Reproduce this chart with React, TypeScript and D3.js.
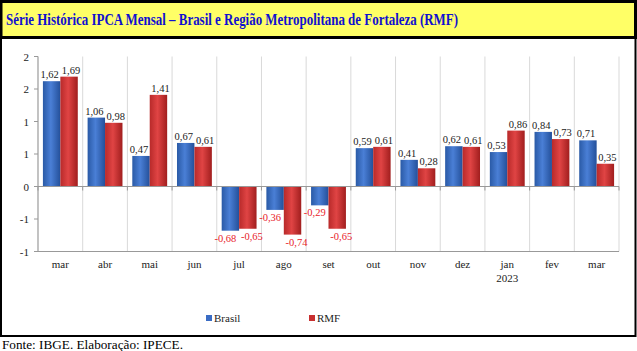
import React from 'react';
import * as d3 from 'd3';

// months (mar/2022 .. mar/2023)
const months = ['mar', 'abr', 'mai', 'jun', 'jul', 'ago', 'set', 'out', 'nov', 'dez', 'jan', 'fev', 'mar'];
const brasil = [1.62, 1.06, 0.47, 0.67, -0.68, -0.36, -0.29, 0.59, 0.41, 0.62, 0.53, 0.84, 0.71];
const rmf = [1.69, 0.98, 1.41, 0.61, -0.65, -0.74, -0.65, 0.61, 0.28, 0.61, 0.86, 0.73, 0.35];
const seriesNames = ['Brasil', 'RMF'];
const yTicks = [2, 1.5, 1, 0.5, 0, -0.5, -1];
const yTickLabels = ['2', '2', '1', '1', '0', '-1', '-1'];

const W = 637;
const H = 351;
const serif = "'Liberation Serif', 'Times New Roman', 'DejaVu Serif', serif";

const fmt = (v: number) => v.toFixed(2).replace('.', ',');

const App = () => {
  const idx = months.map((_, i) => String(i));
  const x = d3.scaleBand().domain(idx).range([38, 619]).paddingInner(0.22).paddingOuter(0.11);
  const xs = d3.scaleBand().domain(seriesNames).range([0, x.bandwidth()]);
  const y = d3.scaleLinear().domain([-1, 2]).range([251.5, 56.5]);
  const step = x.step();
  const bounds = d3.range(months.length + 1).map(k => 38 + k * step);
  const y0 = y(0);

  const data = [brasil, rmf];
  const fills = ['url(#gBlue)', 'url(#gRed)'];
  const txt = { fontFamily: serif };

  return (
    <svg width={W} height={H} style={{ position: 'absolute', left: 0, top: 0, background: '#fff', fontFamily: serif }}>
      <defs>
        <linearGradient id="gBlue" x1="0" x2="1" y1="0" y2="0">
          <stop offset="0" stopColor="#2a5aa6" />
          <stop offset="0.45" stopColor="#4a7fd6" />
          <stop offset="1" stopColor="#24509a" />
        </linearGradient>
        <linearGradient id="gRed" x1="0" x2="1" y1="0" y2="0">
          <stop offset="0" stopColor="#b82a2a" />
          <stop offset="0.45" stopColor="#e04444" />
          <stop offset="1" stopColor="#a11e1e" />
        </linearGradient>
      </defs>

      {/* title box */}
      <rect x={1} y={1.5} width={634.5} height={36} fill="#ffff66" stroke="#000" strokeWidth={3} />
      <text x={6} y={25} style={txt} fontWeight="bold" fontSize={16} fill="#1010d0"
        textLength={452} lengthAdjust="spacingAndGlyphs">
        Série Histórica IPCA Mensal – Brasil e Região Metropolitana de Fortaleza (RMF)
      </text>

      {/* chart box */}
      <rect x={1} y={38} width={634.5} height={298} fill="#fff" stroke="#000" strokeWidth={2} />

      {/* vertical grid */}
      {bounds.map((bx, i) => (
        <line key={'g' + i} x1={bx} x2={bx} y1={56.5} y2={251.5} stroke="#d9d9d9" strokeWidth={1} />
      ))}

      {/* y axis */}
      <line x1={38} x2={38} y1={56.5} y2={251.5} stroke="#999" />
      {yTicks.map((t, i) => (
        <g key={'yt' + i}>
          <line x1={34} x2={38} y1={y(t)} y2={y(t)} stroke="#999" />
          <text x={29} y={y(t) + 4} textAnchor="end" style={txt} fontSize={11} fill="#222">
            {yTickLabels[i]}
          </text>
        </g>
      ))}
      <line x1={38} x2={619} y1={251.5} y2={251.5} stroke="#999" />

      {/* bars */}
      {data.map((vals, s) =>
        vals.map((v, i) => {
          const bx = (x(String(i)) as number) + (xs(seriesNames[s]) as number);
          const top = Math.min(y(v), y0);
          return (
            <rect key={'b' + s + '-' + i} x={bx} y={top} width={xs.bandwidth()} height={Math.abs(y(v) - y0)} fill={fills[s]} />
          );
        })
      )}

      {/* zero axis */}
      <line x1={38} x2={619} y1={y0} y2={y0} stroke="#999" />
      {bounds.map((bx, i) => (
        <line key={'xt' + i} x1={bx} x2={bx} y1={y0} y2={y0 + 4} stroke="#999" />
      ))}

      {/* value labels */}
      {data.map((vals, s) =>
        vals.map((v, i) => {
          const cx = (x(String(i)) as number) + (xs(seriesNames[s]) as number) + xs.bandwidth() / 2;
          const shift = v >= 0 ? (s === 0 ? -2 : 2) : (s === 0 ? -5 : 4);
          const ly = v >= 0 ? y(v) - 3 : y(v) + 11;
          return (
            <text key={'l' + s + '-' + i} x={cx + shift} y={ly} textAnchor="middle" style={txt} fontSize={10.5}
              fill={v >= 0 ? '#222' : '#e8222a'}>
              {fmt(v)}
            </text>
          );
        })
      )}

      {/* category labels */}
      {months.map((m, i) => (
        <text key={'c' + i} x={(x(String(i)) as number) + x.bandwidth() / 2} y={268} textAnchor="middle"
          style={txt} fontSize={11} fill="#222">
          {m}
        </text>
      ))}
      <text x={(x('10') as number) + x.bandwidth() / 2} y={282} textAnchor="middle" style={txt} fontSize={11} fill="#222">
        2023
      </text>

      {/* legend */}
      <rect x={206} y={315} width={6} height={6} fill="#3a6cc4" />
      <text x={214} y={322} style={txt} fontSize={11} fill="#222">Brasil</text>
      <rect x={309} y={315} width={6} height={6} fill="#c83030" />
      <text x={317} y={322} style={txt} fontSize={11} fill="#222">RMF</text>

      {/* source */}
      <text x={2} y={349} style={txt} fontSize={13} fill="#000" textLength={181} lengthAdjust="spacingAndGlyphs">
        Fonte: IBGE. Elaboração: IPECE.
      </text>
    </svg>
  );
};

export default App;
